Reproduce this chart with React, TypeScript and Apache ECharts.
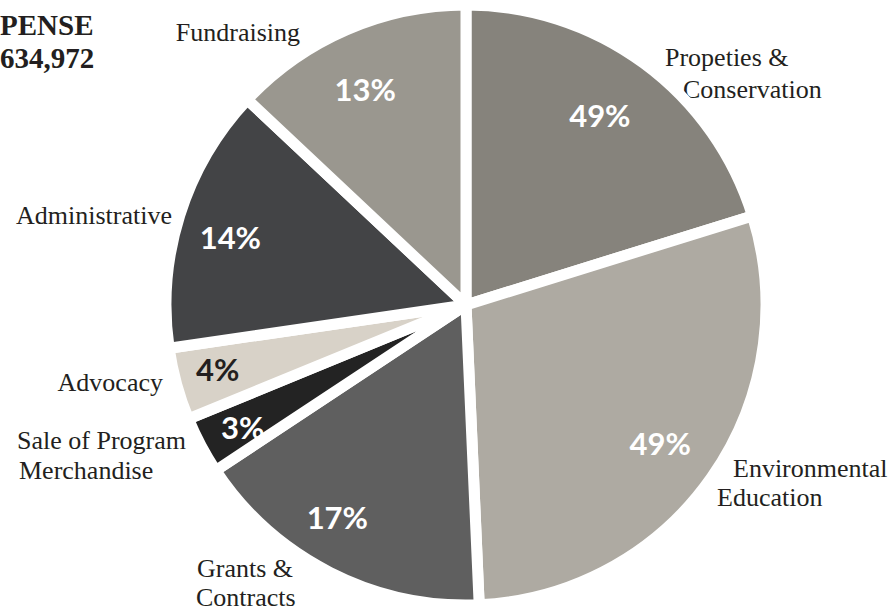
import React, { useEffect, useRef } from "react";
import * as echarts from "echarts";

const categories = [
  "Propeties & Conservation",
  "Environmental Education",
  "Grants & Contracts",
  "Sale of Program Merchandise",
  "Advocacy",
  "Administrative",
  "Fundraising",
];
const values = [20.2, 29.1, 16.4, 3.1, 3.9, 14.3, 13.0];
const pctLabels = ["49%", "49%", "17%", "3%", "4%", "14%", "13%"];
const nameLines = [
  ["Propeties &", "Conservation"],
  ["Environmental", "Education"],
  ["Grants &", "Contracts"],
  ["Sale of Program", "Merchandise"],
  ["Advocacy"],
  ["Administrative"],
  ["Fundraising"],
];
const titleLines = ["PENSE", "634,972"];

const colors = ["#86837c", "#aeaaa2", "#5f5f5f", "#232323", "#d8d2c8", "#434446", "#9a978f"];
const pctColors = ["#ffffff", "#ffffff", "#ffffff", "#ffffff", "#231f20", "#ffffff", "#ffffff"];

// layout of name lines: [x, y, align] per line
const nameLayout: [number, number, string][][] = [
  [[665, 57, "left"], [683, 89, "left"]],
  [[733, 468, "left"], [717, 497, "left"]],
  [[197, 568, "left"], [196, 597, "left"]],
  [[17, 440, "left"], [19, 470, "left"]],
  [[163, 382, "right"]],
  [[172, 215, "right"]],
  [[300, 32, "right"]],
];
// fine offsets of percentage labels
const pctOffsets: [number, number][] = [
  [-12, 8],
  [-7, -3],
  [-17, -7],
  [-6, 7],
  [-11, -1],
  [-1, 6],
  [-3, 10],
];

const CX = 466;
const CY = 305;
const R = 300;

export default function App() {
  const ref = useRef<HTMLDivElement>(null);
  useEffect(() => {
    if (!ref.current) return;
    const chart = echarts.init(ref.current, undefined, { renderer: "svg" });
    const serif = "Liberation Serif";
    const graphics: any[] = [];
    nameLines.forEach((lines, i) => {
      lines.forEach((t, j) => {
        const [x, y, align] = nameLayout[i][j];
        graphics.push({
          type: "text",
          x,
          y,
          style: {
            text: t,
            fontFamily: serif,
            fontSize: 26,
            fill: "#231f20",
            align,
            verticalAlign: "middle",
          },
        });
      });
    });
    titleLines.forEach((t, j) => {
      graphics.push({
        type: "text",
        x: 0,
        y: 25 + j * 33,
        style: {
          text: t,
          fontFamily: serif,
          fontWeight: "bold",
          fontSize: 29,
          fill: "#231f20",
          align: "left",
          verticalAlign: "middle",
        },
      });
    });
    chart.setOption({
      animation: false,
      graphic: graphics,
      series: [
        {
          type: "pie",
          center: [CX, CY],
          radius: [0, R],
          startAngle: 90,
          clockwise: true,
          silent: true,
          avoidLabelOverlap: false,
          label: { show: false },
          labelLine: { show: false },
          itemStyle: { borderColor: "#ffffff", borderWidth: 11 },
          data: categories.map((name, i) => ({
            name,
            value: values[i],
            itemStyle: { color: colors[i] },
          })),
        },
        {
          type: "pie",
          center: [CX, CY],
          radius: [0, R * 1.62],
          startAngle: 90,
          clockwise: true,
          silent: true,
          z: 5,
          avoidLabelOverlap: false,
          labelLine: { show: false },
          itemStyle: { color: "rgba(0,0,0,0)", borderWidth: 0 },
          label: {
            show: true,
            position: "inside",
            fontFamily: "Lato",
            fontWeight: "bold",
            fontSize: 31,
          },
          labelLayout: (p: any) => ({
            dx: pctOffsets[p.dataIndex][0],
            dy: pctOffsets[p.dataIndex][1],
          }),
          data: categories.map((name, i) => ({
            name,
            value: values[i],
            label: { formatter: pctLabels[i], color: pctColors[i] },
          })),
        },
      ],
    });
    return () => chart.dispose();
  }, []);
  return (
    <div
      ref={ref}
      style={{ position: "absolute", left: 0, top: 0, width: 896, height: 610 }}
    />
  );
}
